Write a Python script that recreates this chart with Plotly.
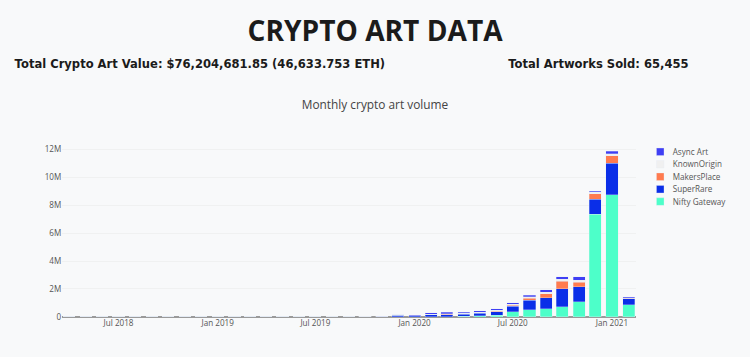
import plotly.graph_objects as go

# ---------------- data (USD, monthly) ----------------
months = [
    "2018-04-01", "2018-05-01", "2018-06-01", "2018-07-01", "2018-08-01", "2018-09-01",
    "2018-10-01", "2018-11-01", "2018-12-01", "2019-01-01", "2019-02-01", "2019-03-01",
    "2019-04-01", "2019-05-01", "2019-06-01", "2019-07-01", "2019-08-01", "2019-09-01",
    "2019-10-01", "2019-11-01", "2019-12-01", "2020-01-01", "2020-02-01", "2020-03-01",
    "2020-04-01", "2020-05-01", "2020-06-01", "2020-07-01", "2020-08-01", "2020-09-01",
    "2020-10-01", "2020-11-01", "2020-12-01", "2021-01-01", "2021-02-01",
]

nifty_gateway = [
    0, 0, 0, 0, 0, 0,
    0, 0, 0, 0, 0, 0,
    0, 0, 0, 0, 0, 0,
    0, 0, 0, 0, 0, 10000,
    50000, 80000, 130000, 360000, 520000, 600000,
    740000, 1090000, 7360000, 8760000, 860000,
]
super_rare = [
    12000, 15000, 14000, 12000, 13000, 11000,
    6000, 0, 0, 0, 0, 0,
    0, 0, 0, 0, 0, 0,
    20000, 40000, 130000, 70000, 150000, 140000,
    140000, 180000, 240000, 400000, 670000, 780000,
    1280000, 1080000, 1090000, 2240000, 430000,
]
makers_place = [
    0, 0, 0, 0, 0, 0,
    0, 0, 0, 0, 0, 0,
    0, 0, 0, 0, 0, 0,
    0, 0, 0, 0, 20000, 30000,
    30000, 40000, 50000, 60000, 140000, 290000,
    550000, 330000, 380000, 550000, 30000,
]
known_origin = [
    8000, 9000, 8000, 9000, 8000, 9000,
    9000, 10000, 9000, 8000, 7000, 9000,
    10000, 9000, 8000, 9000, 10000, 9000,
    9000, 10000, 20000, 10000, 30000, 40000,
    30000, 40000, 50000, 70000, 100000, 90000,
    140000, 120000, 100000, 160000, 20000,
]
async_art = [
    0, 0, 0, 0, 0, 0,
    0, 0, 0, 0, 0, 0,
    0, 0, 0, 0, 0, 0,
    0, 10000, 20000, 20000, 110000, 110000,
    80000, 110000, 100000, 130000, 120000, 170000,
    170000, 260000, 70000, 170000, 70000,
]

series_names = ["Nifty Gateway", "SuperRare", "MakersPlace", "KnownOrigin", "Async Art"]
series_values = [nifty_gateway, super_rare, makers_place, known_origin, async_art]
series_colors = ["#4dffc9", "#0a2ee8", "#ff7b4f", "#f0f0f0", "#3f3ff4"]

header_title = "CRYPTO ART DATA"
header_value = "Total Crypto Art Value: $76,204,681.85 (46,633.753 ETH)"
header_sold = "Total Artworks Sold: 65,455"
chart_title = "Monthly crypto art volume"

# ---------------- figure (drawn at 1.6x, shown at 0.625 scale) ----------------
W, H = 1200, 571
ML, MR, MT, MB = 99, 182, 228, 64
PW, PH = W - ML - MR, H - MT - MB
BG = "#f8f9fa"


def px_x(x):
    return (x - ML) / PW


def px_y(y):
    return (H - MB - y) / PH


fig = go.Figure()
for name, vals, col in zip(series_names, series_values, series_colors):
    fig.add_trace(go.Bar(x=months, y=vals, name=name, marker_color=col))

fig.update_layout(
    width=W, height=H,
    barmode="stack",
    paper_bgcolor=BG, plot_bgcolor=BG,
    font=dict(family="Open Sans, Lato, sans-serif", color="#555", size=13),
    margin=dict(l=ML, r=MR, t=MT, b=MB),
    title=dict(text=chart_title, x=0.5, xanchor="center", y=1 - 168 / H,
               yanchor="middle", font=dict(size=19, color="#444")),
    legend=dict(font=dict(size=13, color="#555"), bgcolor="rgba(0,0,0,0)"),
    xaxis=dict(showgrid=False, ticks="", showline=False, zeroline=False,
               tickfont=dict(size=13, color="#555"), dtick="M6", tickformat="%b %Y"),
    yaxis=dict(showgrid=True, gridcolor="#ececec", zeroline=True, zerolinecolor="#9a9a9a",
               zerolinewidth=1.5, ticks="", showline=False,
               tickfont=dict(size=13, color="#555"), dtick=2000000),
)

fig.add_annotation(text="<b>" + header_title + "</b>", xref="paper", yref="paper",
                   x=px_x(600), xanchor="center", y=px_y(48), yanchor="middle",
                   showarrow=False, font=dict(size=45, color="#1b1b1b",
                                              family="Open Sans, sans-serif"))
sub_font = dict(size=18.5, color="#1b1b1b", family="DejaVu Sans, sans-serif")
fig.add_annotation(text="<b>" + header_value + "</b>", xref="paper", yref="paper",
                   x=px_x(21), xanchor="left", y=px_y(102), yanchor="middle",
                   showarrow=False, font=sub_font)
fig.add_annotation(text="<b>" + header_sold + "</b>", xref="paper", yref="paper",
                   x=px_x(811), xanchor="left", y=px_y(102), yanchor="middle",
                   showarrow=False, font=sub_font)

post = (
    "var gd=document.getElementById('{plot_id}');"
    "document.documentElement.style.overflow='hidden';"
    "document.body.style.overflow='hidden';"
    "document.body.style.margin='0';"
    "document.body.style.background='" + BG + "';"
    "gd.style.transformOrigin='0 0';"
    "gd.style.transform='scale(0.625)';"
)

fig.write_html("out.html", post_script=post, config={"displayModeBar": False})
